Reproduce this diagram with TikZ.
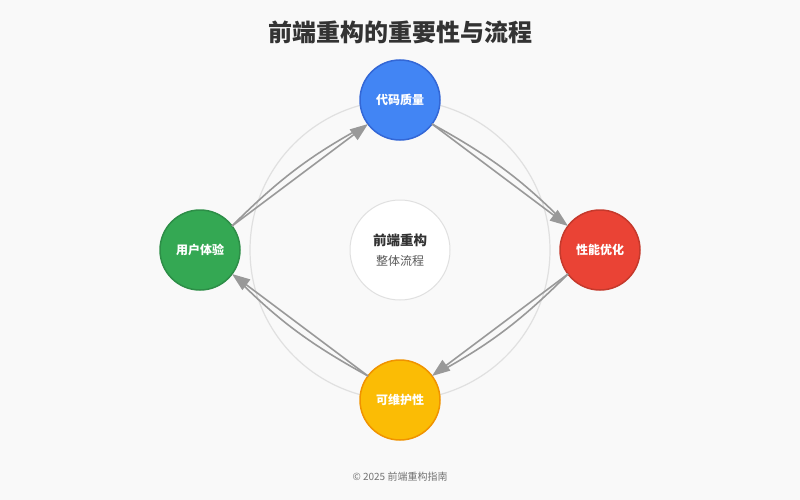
\documentclass[tikz,border=0pt]{standalone}
\usepackage{fontspec}
\setmainfont{Noto Sans CJK SC}
\newfontfamily\cjk{Noto Sans CJK SC}
\usetikzlibrary{arrows.meta,calc}
\definecolor{bg}{HTML}{F9F9F9}
\definecolor{gblue}{HTML}{4285F4}
\definecolor{gblueb}{HTML}{3367D6}
\definecolor{gred}{HTML}{EA4335}
\definecolor{gredb}{HTML}{C5392C}
\definecolor{gyel}{HTML}{FBBC05}
\definecolor{gyelb}{HTML}{F09300}
\definecolor{ggreen}{HTML}{34A853}
\definecolor{ggreenb}{HTML}{2D8E47}
\definecolor{arr}{HTML}{999999}
\definecolor{ring}{HTML}{E0E0E0}
\tikzset{
  stage/.style={circle, minimum size=80pt, inner sep=0pt, line width=1.5pt, text=white, font=\cjk\bfseries\fontsize{12}{14}\selectfont},
  flow/.style={draw=arr, line width=1.6pt, -{Triangle[length=18pt,width=13pt]}},
  flowc/.style={draw=arr, line width=1.6pt, bend left=8, shorten >=8pt},
}
\begin{document}
\begin{tikzpicture}[x=1pt,y=-1pt]
\fill[bg] (0,0) rectangle (800,500);
\useasboundingbox (0,0) rectangle (800,500);
\node[font=\cjk\bfseries\fontsize{24}{28}\selectfont, text=black!80] (title) at (400,32) {前端重构的重要性与流程};
\node[circle, draw=ring, line width=1.2pt, minimum size=300pt, inner sep=0pt] (ring) at (400,250) {};
\node[circle, draw=ring, fill=white, line width=1pt, minimum size=100pt, inner sep=0pt, align=center] (center) at (400,250) {};
\node[font=\cjk\bfseries\fontsize{13.5}{16}\selectfont, text=black!80] (c1) at (400,240) {前端重构};
\node[font=\cjk\fontsize{12}{14}\selectfont, text=black!65] (c2) at (400,261) {整体流程};
\node[stage, fill=gblue, draw=gblueb] (q) at (400,100) {代码质量};
\node[stage, fill=gred, draw=gredb] (p) at (600,250) {性能优化};
\node[stage, fill=gyel, draw=gyelb] (m) at (400,400) {可维护性};
\node[stage, fill=ggreen, draw=ggreenb] (u) at (200,250) {用户体验};
\coordinate (qp1) at ($(q)!40pt!(p)$);
\coordinate (qp2) at ($(p)!40pt!(q)$);
\coordinate (pm1) at ($(p)!40pt!(m)$);
\coordinate (pm2) at ($(m)!40pt!(p)$);
\coordinate (mu1) at ($(m)!40pt!(u)$);
\coordinate (mu2) at ($(u)!40pt!(m)$);
\coordinate (uq1) at ($(u)!40pt!(q)$);
\coordinate (uq2) at ($(q)!40pt!(u)$);
\draw[flowc] (qp1) to (qp2);
\draw[flow] (qp1) -- (qp2);
\draw[flowc] (pm1) to (pm2);
\draw[flow] (pm1) -- (pm2);
\draw[flowc] (mu1) to (mu2);
\draw[flow] (mu1) -- (mu2);
\draw[flowc] (uq1) to (uq2);
\draw[flow] (uq1) -- (uq2);
\node[font=\cjk\fontsize{10}{12}\selectfont, text=black!55] (foot) at (400,477) {© 2025 前端重构指南};
\end{tikzpicture}
\end{document}
